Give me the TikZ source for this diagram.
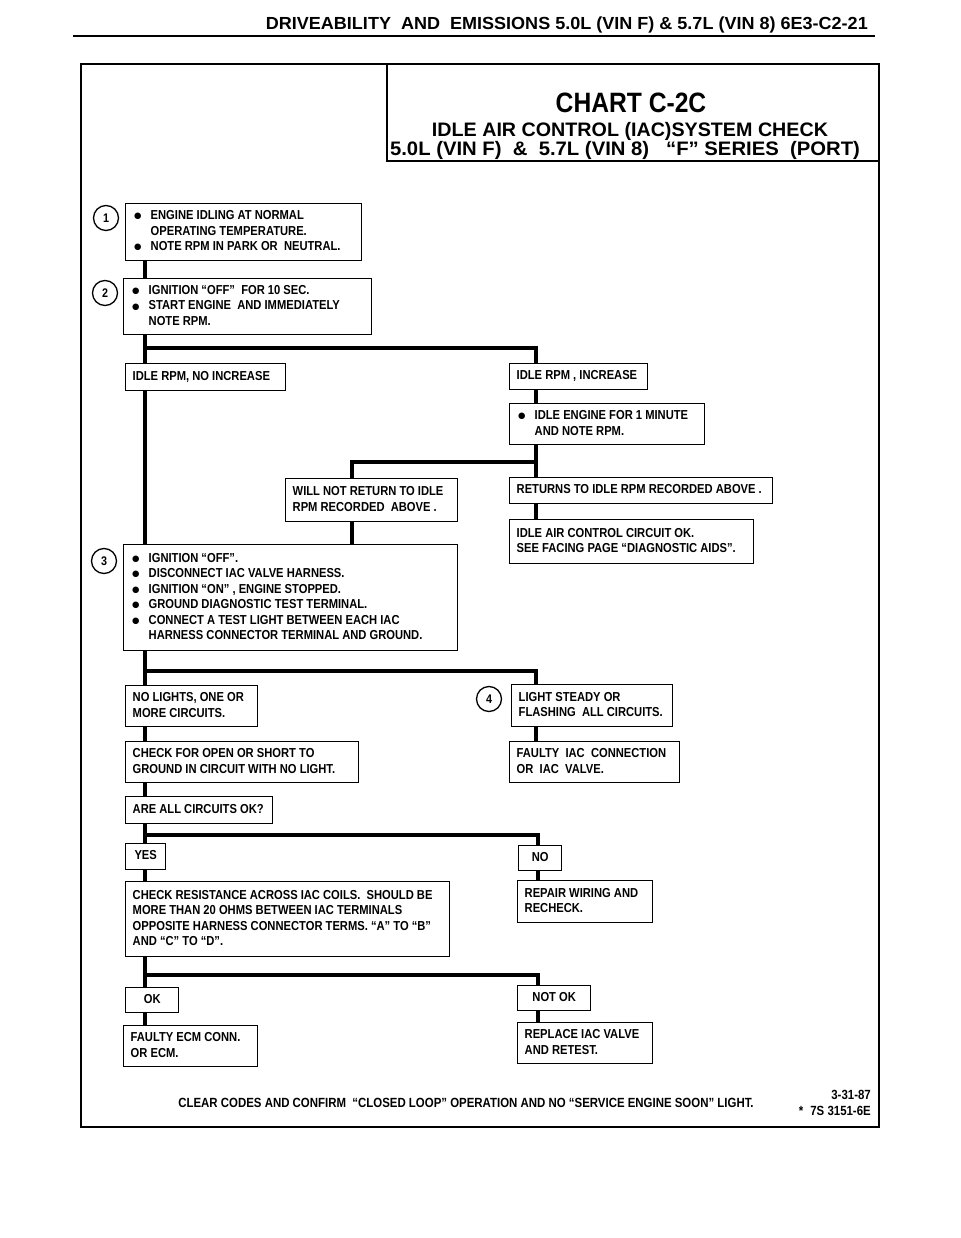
\documentclass[tikz,border=0pt]{standalone}
\usepackage{fontspec}
\setmainfont{Liberation Sans}
\newfontfamily\fBox[FakeStretch=0.86]{Liberation Sans}
\newfontfamily\fHdr[FakeStretch=1.03]{Liberation Sans}
\newfontfamily\fTtlA[FakeStretch=1.01]{Liberation Sans}
\newfontfamily\fTtlB[FakeStretch=1.04]{Liberation Sans}
\newfontfamily\fChart[FakeStretch=0.88]{Liberation Sans}
\newfontfamily\fSym{DejaVu Sans}
\newcommand\mybul{\makebox[18pt][l]{\hspace{1.5pt}\raisebox{0.8pt}{\fSym\fontsize{8.5}{8.5}\selectfont ●}}}
\newcommand\myind{\hspace*{18pt}}
\newcommand\mkbox[7][l]{%
  \pgfmathsetmacro\mybw{#5-#3-14}%
  \pgfmathsetmacro\mybh{#6-#4}%
  \node[boxst, minimum height=\mybh pt, anchor=north west] (#2) at (#3,#4)
    {\makebox[\mybw pt][#1]{\begin{tabular}{@{}#1@{}}#7\end{tabular}}};}
\tikzset{
  boxst/.style={draw, line width=1.4pt, inner xsep=7pt, inner ysep=0pt,
    font=\fBox\bfseries\fontsize{13}{15.5}\selectfont},
  conn/.style={line width=3.2pt, line join=miter},
  circ/.style={draw, circle, line width=1.3pt, minimum size=25pt, inner sep=0pt,
    font=\fBox\bfseries\fontsize{12.5}{12.5}\selectfont},
  foot/.style={inner sep=0pt, font=\fBox\bfseries\fontsize{13.3}{15}\selectfont},
}
\begin{document}
\begin{tikzpicture}[x=1pt,y=-1pt]
\useasboundingbox (0,0) rectangle (960,1238);
% header
\node[anchor=base east, inner sep=0pt, font=\fHdr\bfseries\fontsize{17.5}{20}\selectfont] (hdr) at (868,30)
  {DRIVEABILITY\ \ AND\ \ EMISSIONS 5.0L (VIN F) \& 5.7L (VIN 8) 6E3-C2-21};
\draw[line width=2.6pt] (73,36) -- (875,36);
% frame and title box
\draw[line width=2.4pt] (81,64) rectangle (879,1127);
\draw[line width=1.6pt] (387,64) -- (387,161) -- (879,161);
\node[anchor=base, inner sep=0pt, font=\fChart\bfseries\fontsize{28}{32}\selectfont] (chart) at (631,113) {CHART C-2C};
\node[anchor=base, inner sep=0pt, font=\fTtlA\bfseries\fontsize{19.5}{23}\selectfont] (ttl1) at (630,137) {IDLE AIR CONTROL (IAC)SYSTEM CHECK};
\node[anchor=base, inner sep=0pt, font=\fTtlB\bfseries\fontsize{19.5}{23}\selectfont] (ttl2) at (625,156) {5.0L (VIN F)\ \ \&\ \ 5.7L (VIN 8)\ \ \ “F” SERIES\ \ (PORT)};
% step circles
\node[circ] (c1) at (106,218) {1};
\node[circ] (c2) at (105,293) {2};
\node[circ] (c3) at (104,561) {3};
\node[circ] (c4) at (489,699) {4};
% boxes
\mkbox{b1}{125}{203}{361}{260}{\mybul ENGINE IDLING AT NORMAL\\\myind OPERATING TEMPERATURE.\\\mybul NOTE RPM IN PARK OR\ \ NEUTRAL.}
\mkbox{b2}{123}{278}{371}{334}{\mybul IGNITION “OFF”\ \ FOR 10 SEC.\\\mybul START ENGINE\ \ AND IMMEDIATELY\\\myind NOTE RPM.}
\mkbox{noinc}{125}{363}{285}{390}{IDLE RPM, NO INCREASE}
\mkbox{inc}{509}{363}{647}{389}{IDLE RPM , INCREASE}
\mkbox{oneminute}{509}{403}{704}{444}{\mybul IDLE ENGINE FOR 1 MINUTE\\\myind AND NOTE RPM.}
\mkbox{willnot}{285}{478}{457}{521}{WILL NOT RETURN TO IDLE\\RPM RECORDED\ \ ABOVE .}
\mkbox{returns}{509}{477}{772}{503}{RETURNS TO IDLE RPM RECORDED ABOVE .}
\mkbox{iacok}{509}{519}{753}{563}{IDLE AIR CONTROL CIRCUIT OK.\\SEE FACING PAGE “DIAGNOSTIC AIDS”.}
\mkbox{b3}{123}{544}{457}{650}{\mybul IGNITION “OFF”.\\\mybul DISCONNECT IAC VALVE HARNESS.\\\mybul IGNITION “ON” , ENGINE STOPPED.\\\mybul GROUND DIAGNOSTIC TEST TERMINAL.\\\mybul CONNECT A TEST LIGHT BETWEEN EACH IAC\\\myind HARNESS CONNECTOR TERMINAL AND GROUND.}
\mkbox{nolights}{125}{685}{257}{726}{NO LIGHTS, ONE OR\\MORE CIRCUITS.}
\mkbox{steady}{511}{684}{672}{726}{LIGHT STEADY OR\\FLASHING\ \ ALL CIRCUITS.}
\mkbox{checkopen}{125}{741}{358}{782}{CHECK FOR OPEN OR SHORT TO\\GROUND IN CIRCUIT WITH NO LIGHT.}
\mkbox{faulty}{509}{741}{679}{782}{FAULTY\ \ IAC\ \ CONNECTION\\OR\ \ IAC\ \ VALVE.}
\mkbox{areall}{125}{796}{272}{823}{ARE ALL CIRCUITS OK?}
\mkbox[c]{yes}{125}{843}{165}{869}{YES}
\mkbox[c]{no}{518}{845}{561}{870}{NO}
\mkbox{checkres}{125}{881}{449}{956}{CHECK RESISTANCE ACROSS IAC COILS.\ \ SHOULD BE\\MORE THAN 20 OHMS BETWEEN IAC TERMINALS\\OPPOSITE HARNESS CONNECTOR TERMS. “A” TO “B”\\AND “C” TO “D”.}
\mkbox{repair}{517}{880}{652}{922}{REPAIR WIRING AND\\RECHECK.}
\mkbox[c]{ok}{125}{987}{178}{1012}{OK}
\mkbox[c]{notok}{517}{985}{590}{1010}{NOT OK}
\mkbox{ecm}{123}{1025}{257}{1066}{FAULTY ECM CONN.\\OR ECM.}
\mkbox{replace}{517}{1022}{652}{1063}{REPLACE IAC VALVE\\AND RETEST.}
% footer
\node[foot, anchor=base] (footline) at (466,1107)
  {CLEAR CODES AND CONFIRM\ \ “CLOSED LOOP” OPERATION AND NO “SERVICE ENGINE SOON” LIGHT.};
\node[foot, anchor=base east] (date) at (871,1099) {3-31-87};
\node[foot, anchor=base east] (code) at (871,1115) {*\hspace{7pt}7S 3151-6E};
% trunk coordinates
\coordinate (TL) at (145,0);
\coordinate (TM) at (352,0);
\coordinate (TR) at (536,0);
\coordinate (TS) at (538,0);
\coordinate (j1) at (145,348);
\coordinate (j2) at (536,462);
\coordinate (j3) at (145,671);
\coordinate (j4) at (145,835);
\coordinate (j5) at (145,975);
% connectors
\draw[conn] (b1.south -| TL) -- (b2.north -| TL);
\draw[conn] (b2.south -| TL) -- (noinc.north -| TL);
\draw[conn] (j1) -| (inc.north -| TR);
\draw[conn] (inc.south -| TR) -- (oneminute.north -| TR);
\draw[conn] (oneminute.south -| TR) -- (returns.north -| TR);
\draw[conn] (j2) -| (willnot.north -| TM);
\draw[conn] (returns.south -| TR) -- (iacok.north -| TR);
\draw[conn] (willnot.south -| TM) -- (b3.north -| TM);
\draw[conn] (noinc.south -| TL) -- (b3.north -| TL);
\draw[conn] (b3.south -| TL) -- (nolights.north -| TL);
\draw[conn] (j3) -| (steady.north -| TR);
\draw[conn] (steady.south -| TR) -- (faulty.north -| TR);
\draw[conn] (nolights.south -| TL) -- (checkopen.north -| TL);
\draw[conn] (checkopen.south -| TL) -- (areall.north -| TL);
\draw[conn] (areall.south -| TL) -- (yes.north -| TL);
\draw[conn] (j4) -| (no.north -| TS);
\draw[conn] (yes.south -| TL) -- (checkres.north -| TL);
\draw[conn] (no.south -| TS) -- (repair.north -| TS);
\draw[conn] (checkres.south -| TL) -- (ok.north -| TL);
\draw[conn] (j5) -| (notok.north -| TS);
\draw[conn] (ok.south -| TL) -- (ecm.north -| TL);
\draw[conn] (notok.south -| TS) -- (replace.north -| TS);
\end{tikzpicture}
\end{document}
